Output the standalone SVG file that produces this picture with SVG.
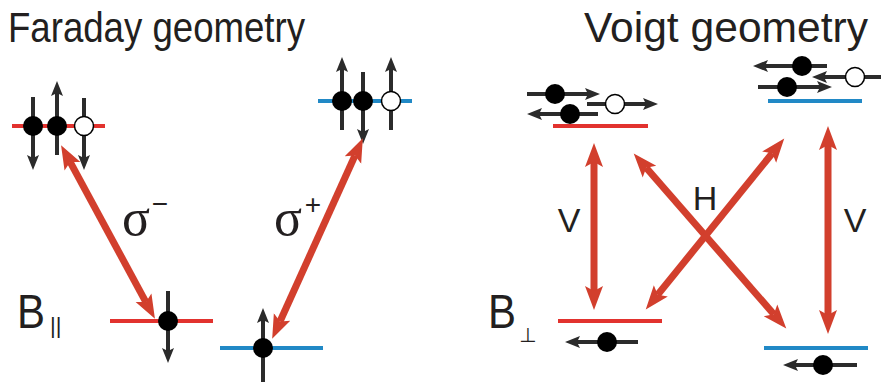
<svg xmlns="http://www.w3.org/2000/svg" width="881" height="387" viewBox="0 0 881 387">
<defs>
<marker id="rh" markerUnits="userSpaceOnUse" markerWidth="26" markerHeight="22" viewBox="0 -11 26 22" refX="5" refY="0" orient="auto-start-reverse">
<path d="M0,-9 L24,0 L0,9 L5,0 Z" fill="#d23f2d"/>
</marker>
<marker id="kh" markerUnits="userSpaceOnUse" markerWidth="16" markerHeight="14" viewBox="0 -7 16 14" refX="3" refY="0" orient="auto-start-reverse">
<path d="M0,-6 L15,0 L0,6 L3,0 Z" fill="#2b2b2b"/>
</marker>
</defs>
<style>
.t{font-family:"Liberation Sans",Arial,sans-serif;fill:#231f20}
.s{font-family:"Liberation Serif","Times New Roman",serif;fill:#231f20}
.lr{stroke:#e2322e;stroke-width:4}
.lb{stroke:#2189c6;stroke-width:4}
.ra{stroke:#d23f2d;stroke-width:7;fill:none;marker-start:url(#rh);marker-end:url(#rh)}
.ka{stroke:#2b2b2b;stroke-width:4;fill:none;marker-end:url(#kh)}
.f{fill:#000}
.o{fill:#fff;stroke:#000;stroke-width:1.5}
</style>

<text class="t" x="8" y="42" font-size="43" textLength="297" lengthAdjust="spacingAndGlyphs">Faraday geometry</text>
<text class="t" x="584" y="42" font-size="43" textLength="284" lengthAdjust="spacingAndGlyphs">Voigt geometry</text>

<g id="faraday-upper-left">
<line class="lr" x1="12" y1="126" x2="105" y2="126"/>
<line class="ka" x1="33" y1="97" x2="33" y2="158"/>
<line class="ka" x1="57" y1="155" x2="57" y2="93"/>
<line class="ka" x1="84" y1="98" x2="84" y2="158"/>
<circle class="f" cx="33" cy="126" r="10"/>
<circle class="f" cx="57" cy="126" r="10"/>
<circle class="o" cx="84" cy="126" r="9.5"/>
</g>

<g id="faraday-upper-right">
<line class="lb" x1="318" y1="101" x2="412" y2="101"/>
<line class="ka" x1="342" y1="130" x2="342" y2="69"/>
<line class="ka" x1="363" y1="72" x2="363" y2="132"/>
<line class="ka" x1="391" y1="130" x2="391" y2="69"/>
<circle class="f" cx="342" cy="101" r="10"/>
<circle class="f" cx="363" cy="101" r="10"/>
<circle class="o" cx="391" cy="101" r="9.5"/>
</g>

<g id="faraday-lower-left">
<text class="t" x="17" y="328" font-size="49" textLength="28" lengthAdjust="spacingAndGlyphs">B</text>
<text class="t" x="50" y="333" font-size="22">||</text>
<line class="lr" x1="110" y1="321" x2="213" y2="321"/>
<line class="ka" x1="168" y1="291" x2="168" y2="351"/>
<circle class="f" cx="168" cy="321" r="10"/>
</g>

<g id="faraday-lower-right">
<line class="lb" x1="220" y1="348" x2="323" y2="348"/>
<line class="ka" x1="263" y1="382" x2="263" y2="320"/>
<circle class="f" cx="263" cy="348" r="10"/>
</g>

<g id="voigt-upper-left">
<line class="lr" x1="553" y1="126" x2="648" y2="126"/>
<line class="ka" x1="527" y1="94" x2="588" y2="94"/>
<circle class="f" cx="555" cy="94" r="10"/>
<line class="ka" x1="587" y1="104" x2="646" y2="104"/>
<circle class="o" cx="615" cy="104" r="9.5"/>
<line class="ka" x1="598" y1="114" x2="539" y2="114"/>
<circle class="f" cx="570" cy="114" r="10"/>
</g>

<g id="voigt-upper-right">
<line class="lb" x1="768" y1="101" x2="862" y2="101"/>
<line class="ka" x1="827" y1="66" x2="765" y2="66"/>
<circle class="f" cx="802" cy="66" r="10"/>
<line class="ka" x1="881" y1="77" x2="824" y2="77"/>
<circle class="o" cx="855" cy="77" r="9.5"/>
<line class="ka" x1="758" y1="87" x2="820" y2="87"/>
<circle class="f" cx="787" cy="87" r="10"/>
</g>

<g id="voigt-lower-left">
<text class="t" x="488" y="328" font-size="49" textLength="28" lengthAdjust="spacingAndGlyphs">B</text>
<text x="519" y="342" font-size="20" style="font-family:'DejaVu Sans',sans-serif;fill:#231f20">⊥</text>
<line class="lr" x1="558" y1="321" x2="662" y2="321"/>
<line class="ka" x1="638" y1="342" x2="577" y2="342"/>
<circle class="f" cx="607" cy="342" r="10"/>
</g>

<g id="voigt-lower-right">
<line class="lb" x1="764" y1="348" x2="868" y2="348"/>
<line class="ka" x1="857" y1="365" x2="795" y2="365"/>
<circle class="f" cx="823" cy="365" r="10"/>
</g>

<g id="connectors">
<line class="ra" x1="70.1" y1="161.9" x2="145.9" y2="302.1"/>
<line class="ra" x1="280" y1="321.5" x2="355" y2="155.5"/>
<line class="ra" x1="594" y1="162" x2="594" y2="291"/>
<line class="ra" x1="828" y1="145" x2="828" y2="315"/>
<line class="ra" x1="646.2" y1="167.8" x2="773.8" y2="314.2"/>
<line class="ra" x1="772.3" y1="153.2" x2="657.7" y2="294.8"/>
</g>

<g id="labels">
<text class="s" x="122" y="235" font-size="52">σ</text>
<text class="t" x="160" y="213" font-size="28" text-anchor="middle">−</text>
<text class="s" x="274" y="235" font-size="52">σ</text>
<text class="t" x="313" y="214" font-size="28" text-anchor="middle">+</text>
<text class="t" x="705" y="210" font-size="34" text-anchor="middle">H</text>
<text class="t" x="569" y="232" font-size="34" text-anchor="middle">V</text>
<text class="t" x="855" y="232" font-size="34" text-anchor="middle">V</text>
</g>
</svg>
